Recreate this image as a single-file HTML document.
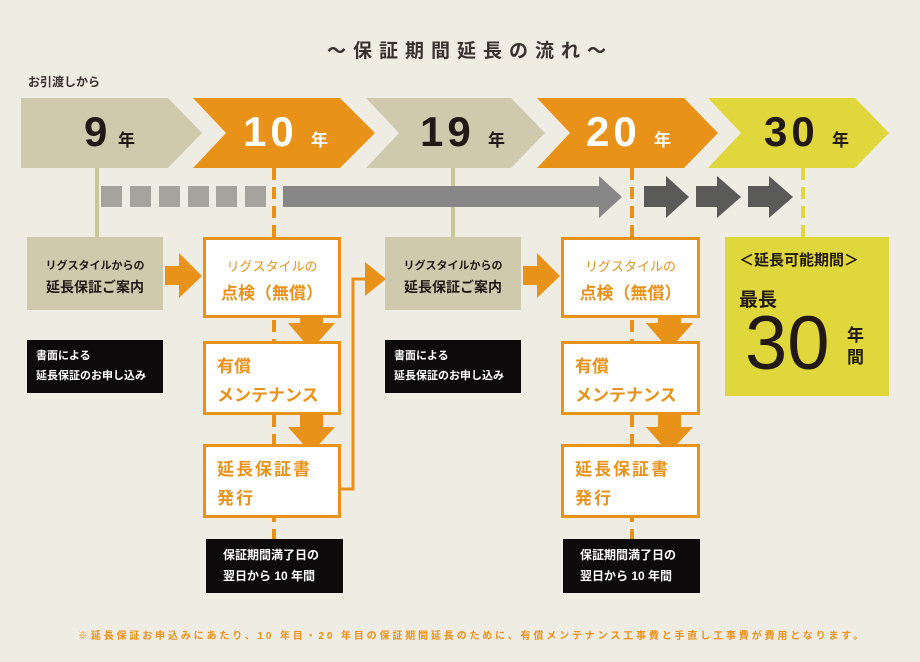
<!DOCTYPE html>
<html><head><meta charset="utf-8"><style>
body{margin:0;width:920px;height:662px;background:#efece4;position:relative;overflow:hidden;font-family:"Liberation Sans","Noto Sans CJK JP",sans-serif;}
.a{position:absolute;}
.t{position:absolute;white-space:nowrap;}
.box{position:absolute;box-sizing:border-box;}
.wb{background:#fff;border:3px solid #e8921a;color:#e8921a;font-weight:bold;}
.bk{background:#0c0a0a;color:#fff;font-size:11px;font-weight:bold;line-height:20px;}
</style></head><body>
<div class="t" style="left:10px;width:920px;text-align:center;top:36px;font-size:19px;font-weight:bold;color:#3a3230;letter-spacing:7px">〜保証期間延長の流れ〜</div>
<div class="t" style="left:28px;top:73px;font-size:12px;font-weight:bold;color:#3a3230">お引渡しから</div>
<svg class="a" style="left:0;top:0" width="920" height="662">
<polygon points="21,98 168,98 202,133 168,168 21,168" fill="#cfc9ad"/>
<polygon points="193,98 340,98 375,133 340,168 193,168 226,133" fill="#e8921a"/>
<polygon points="366,98 511,98 545,133 511,168 366,168 399,133" fill="#cfc9ad"/>
<polygon points="537,98 684,98 718,133 684,168 537,168 570,133" fill="#e8921a"/>
<polygon points="708,98 855,98 889,133 855,168 708,168 741,133" fill="#dfd73c"/>
<line x1="97" y1="168" x2="97" y2="237" stroke="#c8c79a" stroke-width="4"/>
<line x1="453" y1="168" x2="453" y2="237" stroke="#c8c79a" stroke-width="4"/>
<line x1="274" y1="168" x2="274" y2="540" stroke="#e8921a" stroke-width="4" stroke-dasharray="12,7"/>
<line x1="632" y1="168" x2="632" y2="540" stroke="#e8921a" stroke-width="4" stroke-dasharray="12,7"/>
<line x1="803" y1="168" x2="803" y2="237" stroke="#dfd73c" stroke-width="4" stroke-dasharray="12,7"/>
<g fill="#a6a39c"><rect x="101" y="186" width="21" height="21"/><rect x="130" y="186" width="21" height="21"/><rect x="159" y="186" width="21" height="21"/><rect x="188" y="186" width="21" height="21"/><rect x="216" y="186" width="21" height="21"/><rect x="245" y="186" width="21" height="21"/></g>
<polygon points="283,186 599,186 599,176 622,197 599,218 599,207 283,207" fill="#878787"/>
<g fill="#5a5a58">
<polygon points="644,186 666,186 666,176 689,197 666,218 666,207 644,207"/>
<polygon points="696,186 717,186 717,176 741,197 717,218 717,207 696,207"/>
<polygon points="748,186 769,186 769,176 793,197 769,218 769,207 748,207"/>
</g>
<g fill="#e8921a">
<polygon points="165,266 179,266 179,253 202,276 179,298 179,285 165,285"/>
<polygon points="523,266 537,266 537,253 560,276 537,298 537,285 523,285"/>
<polygon points="300,305 323,305 323,323 335,323 311,350 288,323 300,323"/>
<polygon points="300,408 323,408 323,427 335,427 311,453 288,427 300,427"/>
<polygon points="658,305 681,305 681,323 693,323 669,350 646,323 658,323"/>
<polygon points="658,408 681,408 681,427 693,427 669,453 646,427 658,427"/>
<polygon points="365,262 386,279 365,296"/>
</g>
<polyline points="341,489 353,489 353,279 366,279" fill="none" stroke="#e8921a" stroke-width="3"/>
</svg>
<div class="t" style="left:84px;top:108px;font-size:42px;font-weight:bold;color:#231815">9</div>
<div class="t" style="left:118px;top:126px;font-size:17px;font-weight:bold;color:#231815">年</div>
<div class="t" style="left:243px;top:108px;font-size:42px;font-weight:bold;color:#fff;letter-spacing:4px">10</div>
<div class="t" style="left:311px;top:126px;font-size:17px;font-weight:bold;color:#fff">年</div>
<div class="t" style="left:420px;top:108px;font-size:42px;font-weight:bold;color:#231815;letter-spacing:4px">19</div>
<div class="t" style="left:488px;top:126px;font-size:17px;font-weight:bold;color:#231815">年</div>
<div class="t" style="left:586px;top:108px;font-size:42px;font-weight:bold;color:#fff;letter-spacing:4px">20</div>
<div class="t" style="left:654px;top:126px;font-size:17px;font-weight:bold;color:#fff">年</div>
<div class="t" style="left:764px;top:108px;font-size:42px;font-weight:bold;color:#231815;letter-spacing:4px">30</div>
<div class="t" style="left:832px;top:126px;font-size:17px;font-weight:bold;color:#231815">年</div>

<div class="box" style="left:27px;top:237px;width:136px;height:73px;background:#cfc9ad;color:#231815;text-align:center;font-weight:bold;padding-top:20px"><div style="font-size:11px">リグスタイルからの</div><div style="font-size:14px;margin-top:4px">延長保証ご案内</div></div>
<div class="box" style="left:385px;top:237px;width:136px;height:73px;background:#cfc9ad;color:#231815;text-align:center;font-weight:bold;padding-top:20px"><div style="font-size:11px">リグスタイルからの</div><div style="font-size:14px;margin-top:4px">延長保証ご案内</div></div>

<div class="box wb" style="left:203px;top:237px;width:138px;height:81px;text-align:center;padding-top:16px"><div style="font-size:13px;font-weight:normal">リグスタイルの</div><div style="font-size:17px;margin-top:4px">点検（無償）</div></div>
<div class="box wb" style="left:561px;top:237px;width:139px;height:81px;text-align:center;padding-top:16px"><div style="font-size:13px;font-weight:normal">リグスタイルの</div><div style="font-size:17px;margin-top:4px">点検（無償）</div></div>
<div class="box wb" style="left:203px;top:341px;width:138px;height:74px;padding:8px 0 0 11px;font-size:17px;line-height:29px">有償<br>メンテナンス</div>
<div class="box wb" style="left:561px;top:341px;width:139px;height:74px;padding:8px 0 0 11px;font-size:17px;line-height:29px">有償<br>メンテナンス</div>
<div class="box wb" style="left:203px;top:444px;width:138px;height:74px;padding:8px 0 0 11px;font-size:17px;line-height:29px;letter-spacing:2px">延長保証書<br>発行</div>
<div class="box wb" style="left:561px;top:444px;width:139px;height:74px;padding:8px 0 0 11px;font-size:17px;line-height:29px;letter-spacing:2px">延長保証書<br>発行</div>

<div class="box bk" style="left:27px;top:340px;width:136px;height:53px;padding:6px 0 0 9px">書面による<br>延長保証のお申し込み</div>
<div class="box bk" style="left:385px;top:340px;width:136px;height:53px;padding:6px 0 0 9px">書面による<br>延長保証のお申し込み</div>
<div class="box bk" style="left:206px;top:539px;width:137px;height:54px;padding:6px 0 0 17px;font-size:12px;line-height:21px">保証期間満了日の<br>翌日から 10 年間</div>
<div class="box bk" style="left:563px;top:539px;width:137px;height:54px;padding:6px 0 0 17px;font-size:12px;line-height:21px">保証期間満了日の<br>翌日から 10 年間</div>

<div class="box" style="left:725px;top:237px;width:164px;height:159px;background:#dfd73c;color:#231815;font-weight:bold">
<div class="t" style="left:14px;top:12px;font-size:15px">＜延長可能期間＞</div>
<div class="t" style="left:14px;top:48px;font-size:19px">最長</div>
<div class="t" style="left:20px;top:62px;font-size:76px;font-weight:normal;line-height:90px">30</div>
<div class="t" style="left:122px;top:88px;font-size:17px;line-height:22px">年<br>間</div>
</div>
<div class="t" style="left:78px;top:627px;font-size:10px;font-weight:bold;color:#e8921a;letter-spacing:2.85px">※延長保証お申込みにあたり、10 年目・20 年目の保証期間延長のために、有償メンテナンス工事費と手直し工事費が費用となります。</div>
</body></html>
